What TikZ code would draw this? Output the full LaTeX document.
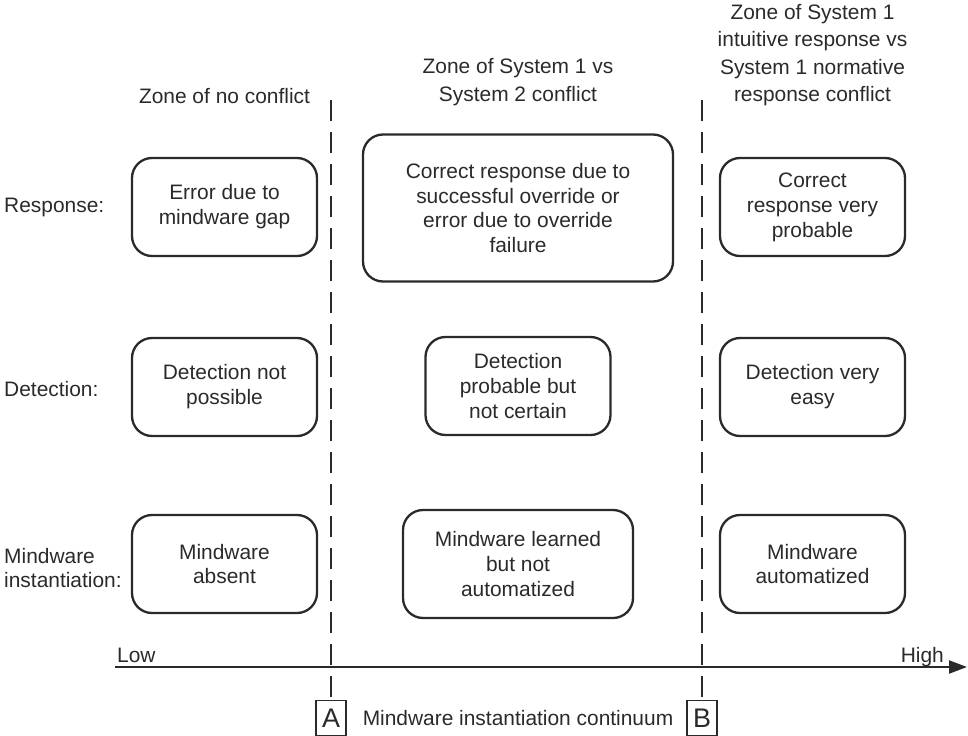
\documentclass[tikz,border=0pt]{standalone}
\usepackage{fontspec}
\setmainfont{Liberation Sans}
\usetikzlibrary{arrows.meta}
\definecolor{ink}{HTML}{2A2A2A}
\begin{document}
\begin{tikzpicture}[x=1bp,y=-1bp,
  txt/.style={font=\fontsize{21}{25}\selectfont, text=ink, align=center, inner sep=0pt},
  head/.style={txt, font=\fontsize{21}{27.5}\selectfont},
  zonebox/.style={txt, draw=ink, line width=2.3bp, rounded corners=20bp, fill=white},
  stdbox/.style={zonebox, minimum width=185bp, minimum height=98bp},
  divider/.style={draw=ink, line width=2.8bp, dash pattern=on 21bp off 11bp},
  endbox/.style={draw=ink, line width=1.8bp, fill=white, text=ink, inner sep=0pt,
    minimum width=30bp, minimum height=35bp, font=\fontsize{27}{27}\selectfont},
  rowlabel/.style={txt, align=left, anchor=west},
]
\useasboundingbox (0,0) rectangle (968,736);

% zone headings
\node[head] (h1) at (224.5,96) {Zone of no conflict};
\node[head] (h2) at (518,82) {Zone of System 1 vs\\System 2 conflict};
\node[head] (h3) at (812.5,55) {Zone of System 1\\intuitive response vs\\System 1 normative\\response conflict};

% row labels
\node[rowlabel] (lr) at (4,207) {Response:};
\node[rowlabel] (ld) at (4,389) {Detection:};
\node[rowlabel] (lm) at (4,568) {Mindware\\instantiation:};

% response row
\node[stdbox] (r1) at (224.5,207) {Error due to\\mindware gap};
\node[zonebox, minimum width=310bp, minimum height=147bp] (r2) at (518,208)
  {Correct response due to\\successful override or\\error due to override\\failure};
\node[stdbox] (r3) at (812.5,207) {Correct\\response very\\probable};

% detection row
\node[stdbox] (d1) at (224.5,387) {Detection not\\possible};
\node[stdbox] (d2) at (518,386) {Detection\\probable but\\not certain};
\node[stdbox] (d3) at (812.5,387) {Detection very\\easy};

% mindware row
\node[stdbox] (m1) at (224.5,564) {Mindware\\absent};
\node[zonebox, minimum width=230bp, minimum height=108bp] (m2) at (518,564)
  {Mindware learned\\but not\\automatized};
\node[stdbox] (m3) at (812.5,564) {Mindware\\automatized};

% continuum axis
\coordinate (lo) at (115,667);
\coordinate (hi) at (967,667);
\draw[ink, line width=2.2bp, -{Triangle[length=18bp,width=13bp]}] (lo) -- (hi);
\node[txt, anchor=base west] (low) at (117,662) {Low};
\node[txt, anchor=base east] (high) at (944,662) {High};

% thresholds A and B
\node[endbox] (A) at (331,718) {A};
\node[endbox] (B) at (702,718) {B};
\coordinate (Atop) at (331,100);
\coordinate (Btop) at (702,100);
\draw[divider] (Atop) -- (A.north);
\draw[divider] (Btop) -- (B.north);
\node[txt] (cont) at (518,718) {Mindware instantiation continuum};
\end{tikzpicture}
\end{document}
